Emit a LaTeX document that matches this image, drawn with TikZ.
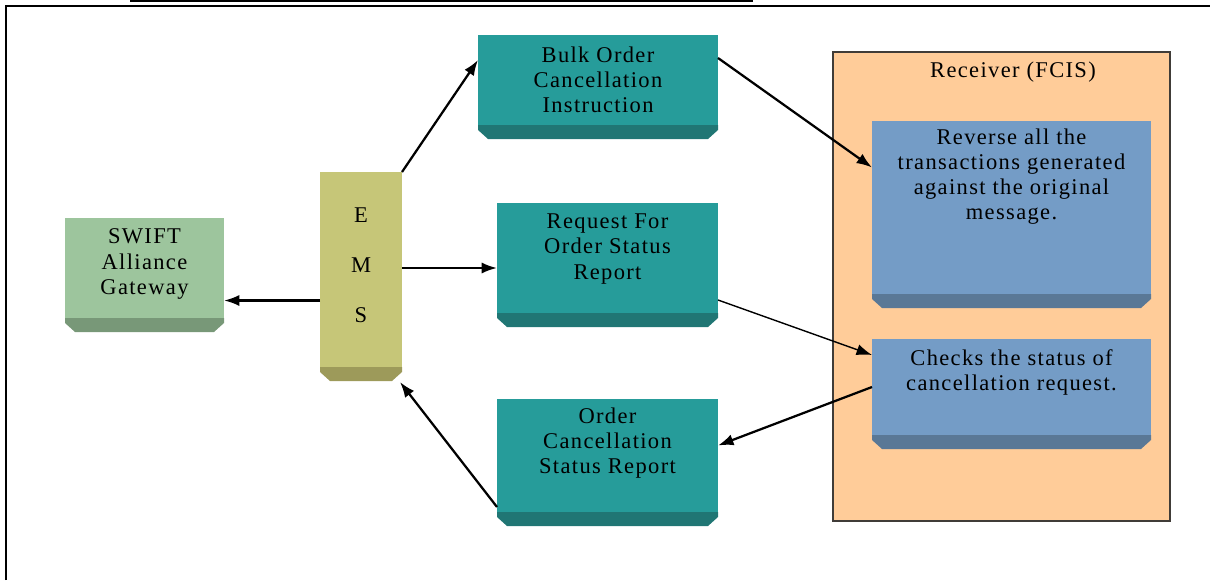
\documentclass[tikz,border=0pt]{standalone}
\usepackage{fontspec}
\setmainfont{Liberation Serif}[LetterSpace=6]
\usetikzlibrary{arrows.meta,calc,fit}

\definecolor{swiftfc}{RGB}{157,197,157}
\definecolor{swiftdk}{RGB}{120,152,120}
\definecolor{emsfc}{RGB}{198,198,120}
\definecolor{emsdk}{RGB}{157,154,90}
\definecolor{tealfc}{RGB}{38,156,154}
\definecolor{tealdk}{RGB}{32,118,116}
\definecolor{bluefc}{RGB}{116,156,198}
\definecolor{bluedk}{RGB}{90,120,150}
\definecolor{peach}{RGB}{255,204,153}
\definecolor{edge}{RGB}{64,60,56}

\tikzset{
  face/.style={inner sep=0pt, outer sep=0pt},
  lbl/.style={align=center, inner sep=0pt, font=\fontsize{16}{17.8}\selectfont},
  arr/.style={-{Latex[length=11pt,width=8pt]}, line width=1.6pt}
}

\begin{document}
\begin{tikzpicture}[x=0.025cm, y=-0.025cm]
  \useasboundingbox (0,0) rectangle (1210,580);
  % page frame
  \draw[line width=1.5pt] (6,580) -- (6,6) -- (1210,6);
  \draw[line width=1.5pt] (130,0.5) -- (753,0.5);

  % receiver
  \node[face, fit={(833,52) (1170,521)}, fill=peach, draw=edge, line width=0.9pt] (fcis) {};
  \node[lbl] (fcistitle) at (1013,72) {Receiver (FCIS)};

  % block faces
  \node[face, fill=swiftfc, fit={(65,218) (224,318)}] (swift) {};
  \node[face, fill=emsfc, fit={(320,172) (402,367)}] (ems) {};
  \node[face, fill=tealfc, fit={(478,35) (718,125)}] (bulk) {};
  \node[face, fill=tealfc, fit={(497,203) (718,313)}] (req) {};
  \node[face, fill=tealfc, fit={(497,399) (718,512)}] (ostat) {};
  \node[face, fill=bluefc, fit={(872,121) (1151,294)}] (rev) {};
  \node[face, fill=bluefc, fit={(872,339) (1151,435)}] (chk) {};

  % darker bottom bands
  \foreach \n/\c in {swift/swiftdk, ems/emsdk, bulk/tealdk, req/tealdk,
      ostat/tealdk, rev/bluedk, chk/bluedk}
    \fill[\c] (\n.south west) -- (\n.south east) -- ++(0,5) -- ++(-10,9)
      -- ($(\n.south west)+(10,14)$) -- ++(-10,-9) -- cycle;

  % texts
  \node[lbl] (swifttxt) at ($(swift.center)+(0,-4)$) {SWIFT\\Alliance\\Gateway};
  \node[lbl, font=\fontsize{16}{35.6}\selectfont] (emstxt) at ($(ems.center)+(0,-4)$) {E\\M\\S};
  \node[lbl] (bulktxt) at (bulk.center) {Bulk Order\\Cancellation\\Instruction};
  \node[lbl] (reqtxt) at ($(req.center)+(0,-9)$) {Request For\\Order Status\\Report};
  \node[lbl] (ostattxt) at ($(ostat.center)+(0,-12)$) {Order\\Cancellation\\Status Report};
  \node[lbl] (revtxt) at ($(rev.center)+(0,-31)$) {Reverse all the\\transactions generated\\against the original\\message.};
  \node[lbl] (chktxt) at ($(chk.center)+(0,-15)$) {Checks the status of\\cancellation request.};

  % connectors
  \coordinate (toswift) at ($(ems.west)+(0,31)$);
  \draw[arr] (toswift) -- (swift.east |- toswift);
  \draw[arr] (ems.north east) -- ($(bulk.west)+(0,-20)$);
  \coordinate (toreq) at ($(req.west)+(0,10)$);
  \draw[arr] (ems.east |- toreq) -- (toreq);
  \draw[arr] ($(bulk.east)+(0,-22)$) -- ($(rev.west)+(0,-40)$);
  \draw[arr, line width=1pt] ($(req.east)+(0,42)$) -- ($(chk.west)+(0,-32)$);
  \draw[arr] (chk.west) -- ($(ostat.east)+(0,-10)$);
  \draw[arr] ($(ostat.south west)+(0,-5)$) -- ($(ems.south east)+(-2,15)$);
\end{tikzpicture}
\end{document}
